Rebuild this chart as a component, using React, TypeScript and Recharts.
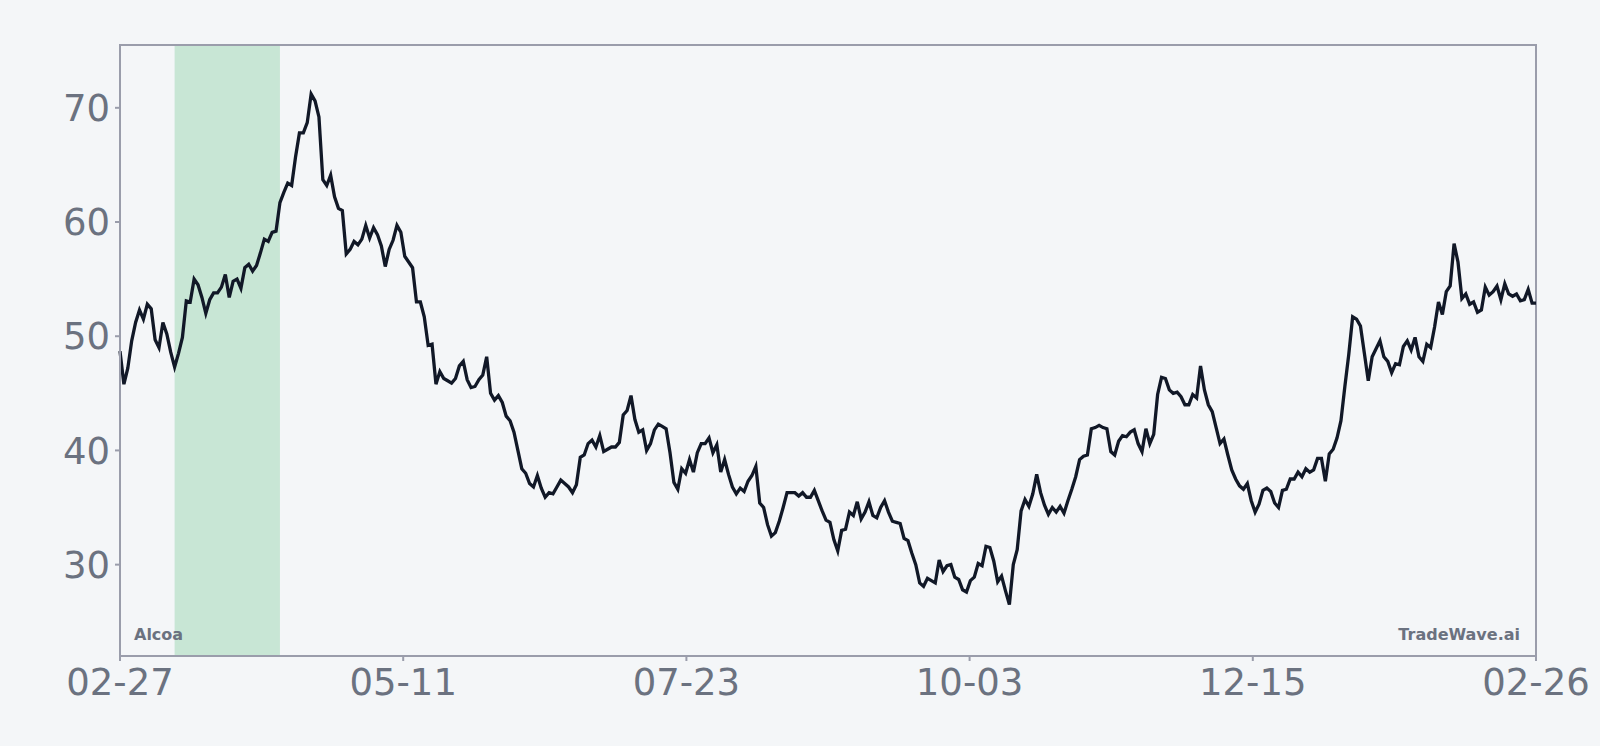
import React from 'react';
import { LineChart, Line, XAxis, YAxis, ReferenceArea } from 'recharts';

// Daily closes (02-27 .. 02-26)
const closes = [
  48.7, 45.8, 47.2, 49.6, 51.2, 52.3, 51.5, 52.8, 52.4, 49.7, 49.0, 51.2, 50.2, 48.6,
  47.3, 48.5, 49.9, 53.1, 53.0, 55.0, 54.5, 53.4, 52.0, 53.2, 53.8, 53.8, 54.3, 55.4, 53.4, 54.8,
  55.0, 54.2, 56.0, 56.3, 55.7, 56.2, 57.3, 58.5, 58.3, 59.1, 59.2, 61.7, 62.6, 63.4, 63.2, 65.7,
  67.8, 67.8, 68.7, 71.2, 70.6, 69.2, 63.7, 63.2, 64.1, 62.2, 61.2, 61.0, 57.2, 57.6, 58.3, 58.0,
  58.5, 59.7, 58.6, 59.5, 58.9, 57.9, 56.1, 57.6, 58.4, 59.7, 59.1, 57.0, 56.5, 56.0, 53.0, 53.0,
  51.7, 49.2, 49.3, 45.8, 46.9, 46.3, 46.1, 45.9, 46.3, 47.4, 47.8, 46.2, 45.5, 45.6, 46.2, 46.6,
  48.2, 45.0, 44.4, 44.8, 44.2, 43.0, 42.6, 41.6, 40.0, 38.4, 38.0, 37.1, 36.8, 37.8, 36.7, 35.9,
  36.3, 36.2, 36.8, 37.4, 37.1, 36.8, 36.3, 37.0, 39.4, 39.6, 40.6, 40.9, 40.3, 41.3, 39.9, 40.1,
  40.3, 40.3, 40.7, 43.1, 43.5, 44.8, 42.7, 41.6, 41.8, 40.0, 40.6, 41.8, 42.3, 42.1, 41.9, 39.8,
  37.2, 36.6, 38.4, 38.0, 39.2, 38.1, 39.8, 40.6, 40.6, 41.1, 39.8, 40.5, 38.1, 39.2, 37.9, 36.8,
  36.2, 36.7, 36.4, 37.3, 37.8, 38.6, 35.4, 35.0, 33.5, 32.5, 32.8, 33.8, 35.0, 36.3, 36.3, 36.3,
  36.0, 36.3, 35.9, 35.9, 36.5, 35.6, 34.7, 33.9, 33.7, 32.2, 31.2, 33.0, 33.1, 34.6, 34.3, 35.5,
  34.0, 34.6, 35.5, 34.3, 34.1, 35.0, 35.6, 34.6, 33.8, 33.7, 33.6, 32.3, 32.1, 31.0, 30.0, 28.4,
  28.1, 28.8, 28.6, 28.4, 30.4, 29.4, 29.9, 30.0, 28.9, 28.7, 27.8, 27.6, 28.6, 28.9, 30.1, 29.9,
  31.6, 31.5, 30.3, 28.5, 29.0, 27.7, 26.5, 30.0, 31.3, 34.7, 35.7, 35.1, 36.2, 37.9, 36.3, 35.2,
  34.4, 35.0, 34.6, 35.1, 34.5, 35.6, 36.6, 37.7, 39.2, 39.5, 39.6, 41.9, 42.0, 42.2, 42.0, 41.9,
  39.9, 39.6, 40.8, 41.3, 41.2, 41.6, 41.8, 40.6, 39.9, 41.9, 40.6, 41.4, 44.9, 46.4, 46.3, 45.3,
  45.0, 45.1, 44.7, 44.0, 44.0, 44.9, 44.6, 47.4, 45.3, 44.0, 43.4, 42.0, 40.6, 41.0, 39.6, 38.3,
  37.5, 36.9, 36.6, 37.1, 35.6, 34.6, 35.3, 36.5, 36.7, 36.4, 35.4, 35.0, 36.5, 36.6, 37.5, 37.5,
  38.1, 37.7, 38.4, 38.1, 38.3, 39.3, 39.3, 37.3, 39.7, 40.1, 41.1, 42.6, 45.6, 48.4, 51.7, 51.5,
  50.9, 48.5, 46.1, 48.2, 48.9, 49.6, 48.2, 47.8, 46.8, 47.6, 47.5, 49.1, 49.6, 48.8, 49.9, 48.2,
  47.8, 49.3, 49.0, 50.8, 53.0, 51.9, 53.9, 54.4, 58.1, 56.5, 53.3, 53.7, 52.8, 53.0, 52.1, 52.3,
  54.3, 53.6, 53.9, 54.4, 53.2, 54.6, 53.7, 53.5, 53.7, 53.1, 53.2, 54.1, 52.9, 52.9,
];

const xTickLabels = ['02-27', '05-11', '07-23', '10-03', '12-15', '02-26'];
const yTicks = [30, 40, 50, 60, 70];
const yDomain = [22, 75.5];
// highlighted period (day index range)
const bandStart = 14;
const bandEnd = 41;

const data = closes.map((close, i) => ({ i, close }));
const last = closes.length - 1;
const xTicks = xTickLabels.map((_, k) => (last * k) / (xTickLabels.length - 1));

const BG = '#f4f6f8';
const FRAME = '#9a9dab';
const TEXT = '#6b7280';
const FONT = '"DejaVu Sans", sans-serif';

export default function App() {
  return (
    <div style={{ position: 'absolute', left: 0, top: 0, width: 1600, height: 746, background: BG, fontFamily: FONT }}>
      <LineChart width={1600} height={746} data={data} margin={{ top: 45, right: 64, left: 0, bottom: 0 }}>
        <XAxis
          dataKey="i"
          type="number"
          domain={[0, last]}
          ticks={xTicks}
          tickFormatter={(v, idx) => xTickLabels[idx]}
          interval={0}
          height={90}
          stroke={FRAME}
          strokeWidth={2}
          tickSize={5}
          tickMargin={8}
          tick={{ fill: TEXT, fontSize: 37, fontFamily: FONT }}
        />
        <YAxis
          type="number"
          domain={yDomain}
          ticks={yTicks}
          allowDataOverflow
          width={120}
          stroke={FRAME}
          strokeWidth={2}
          tickSize={5}
          tickMargin={5}
          tick={{ fill: TEXT, fontSize: 37, fontFamily: FONT }}
        />
        <ReferenceArea x1={bandStart} x2={bandEnd} y1={yDomain[0]} y2={yDomain[1]} fill="#c8e6d5" fillOpacity={1} stroke="none" />
        <Line
          type="linear"
          dataKey="close"
          stroke="#111827"
          strokeWidth={3.3}
          dot={false}
          isAnimationActive={false}
        />
        <ReferenceArea x1={0} x2={last} y1={yDomain[0]} y2={yDomain[1]} fill="none" stroke={FRAME} strokeWidth={2} />
      </LineChart>
      <div style={{ position: 'absolute', left: 134, top: 625, fontSize: 16, fontWeight: 'bold', color: TEXT }}>Alcoa</div>
      <div style={{ position: 'absolute', right: 1600 - 1520, top: 625, fontSize: 16, fontWeight: 'bold', color: TEXT }}>TradeWave.ai</div>
    </div>
  );
}
